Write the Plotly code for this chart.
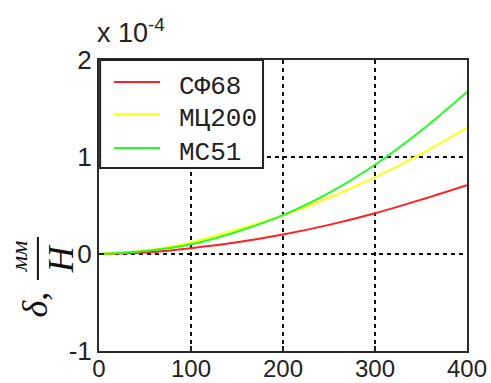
import plotly.graph_objects as go

# Load (N) and specific deflection (units of 1e-4 mm/N) for three samples
load = [0, 50, 100, 150, 200, 250, 300, 350, 400]
sf68 = [0, 0.015, 0.06, 0.12, 0.20, 0.30, 0.42, 0.56, 0.71]
mc200 = [0, 0.035, 0.12, 0.25, 0.40, 0.58, 0.79, 1.03, 1.30]
mc51 = [0, 0.03, 0.10, 0.23, 0.40, 0.63, 0.92, 1.27, 1.67]

series_names = ["СФ68", "МЦ200", "МС51"]
series_values = [sf68, mc200, mc51]
series_colors = ["#ff2020", "#ffff10", "#20ff20"]

x_ticks = [0, 100, 200, 300, 400]
y_ticks = [-1, 0, 1, 2]
y_tick_text = ["-1", "0", "1", "2"]

fig = go.Figure()
for name, vals, col in zip(series_names, series_values, series_colors):
    fig.add_trace(go.Scatter(x=load, y=vals, name=name, mode="lines", showlegend=False,
                             line=dict(color=col, width=2, shape="spline")))

axis_common = dict(showline=True, linecolor="#2a2a2a", linewidth=2, mirror=True,
                   ticks="inside", ticklen=5, tickcolor="#222", tickwidth=2,
                   showgrid=True, gridcolor="#111", gridwidth=2, griddash="4px,4px",
                   zeroline=False, automargin=False)

fig.update_xaxes(range=[0, 400], tickvals=x_ticks, ticklabelstandoff=-5,
                 tickfont=dict(family="Liberation Sans", size=24, color="#222"), **axis_common)
fig.update_yaxes(range=[-1, 2], tickvals=y_ticks, ticktext=y_tick_text, ticksuffix=" ",
                 tickfont=dict(family="Liberation Sans", size=26, color="#222"), **axis_common)

fig.update_layout(
    width=491, height=383,
    margin=dict(l=99, r=24, t=60, b=32),
    paper_bgcolor="white", plot_bgcolor="white",
)

# Legend box drawn in paper coordinates (plot area spans 368 x 291 px)
fig.add_shape(type="rect", xref="paper", yref="paper", x0=0.003, x1=0.4457, y0=0.629, y1=1.0,
              fillcolor="white", line=dict(color="#222", width=2), layer="above")
legend_rows = [0.924, 0.814, 0.698]
for name, col, ry in zip(series_names, series_colors, legend_rows):
    fig.add_shape(type="line", xref="paper", yref="paper", x0=0.041, x1=0.166, y0=ry, y1=ry,
                  line=dict(color=col, width=2), layer="above")
    fig.add_annotation(xref="paper", yref="paper", x=0.212, y=ry, xanchor="left", yanchor="middle",
                       yshift=-5, showarrow=False, text=name,
                       font=dict(family="Liberation Mono", size=26, color="#222"))

# Exponent marker above the y axis
fig.add_annotation(xref="paper", yref="paper", x=0, y=1, xanchor="left", yanchor="bottom",
                   yshift=10, xshift=-4, showarrow=False,
                   text="x 10<sup>-4</sup>",
                   font=dict(family="Liberation Sans", size=27, color="#222"))

# Y axis title: δ, мм/Н written as a fraction
serif = "Liberation Serif"
fig.add_annotation(xref="paper", yref="paper", x=-0.174, y=0.16, xanchor="center", yanchor="middle",
                   showarrow=False, textangle=-90, text="<i>δ</i>,",
                   font=dict(family=serif, size=36, color="#111"))
fig.add_annotation(xref="paper", yref="paper", x=-0.217, y=0.326, xanchor="center", yanchor="middle",
                   showarrow=False, textangle=-90, text="<i>мм</i>",
                   font=dict(family=serif, size=24, color="#111"))
fig.add_annotation(xref="paper", yref="paper", x=-0.103, y=0.316, xanchor="center", yanchor="middle",
                   showarrow=False, textangle=-90, text="<i>H</i>",
                   font=dict(family=serif, size=36, color="#111"))
fig.add_shape(type="line", xref="paper", yref="paper", x0=-0.166, x1=-0.166, y0=0.244, y1=0.392,
              line=dict(color="#111", width=2))

fig.write_html("out.html")
